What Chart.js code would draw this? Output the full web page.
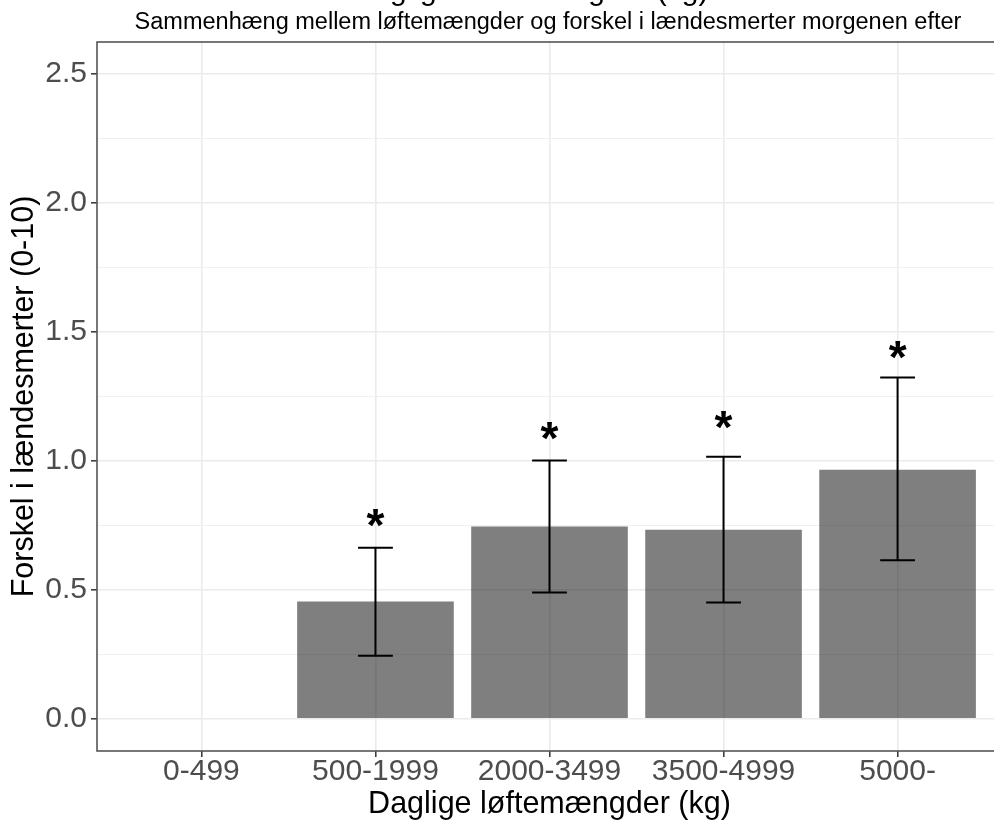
<!DOCTYPE html>
<html><head><meta charset="utf-8">
<script src="https://cdn.jsdelivr.net/npm/chart.js@4.4.1/dist/chart.umd.min.js"></script>
<style>
html,body{margin:0;padding:0;background:#fff;overflow:hidden;width:994px;height:825px}
#wrap{position:absolute;left:0;top:0;width:1010px;height:825px}
</style>
</head><body><div id="wrap"><canvas id="c" width="1010" height="825"></canvas></div>
<script>
const titleText = 'Daglige løftemængder (kg)';
const subtitleText = 'Sammenhæng mellem løftemængder og forskel i lændesmerter morgenen efter';
const xAxisTitle = 'Daglige løftemængder (kg)';
const yAxisTitle = 'Forskel i lændesmerter (0-10)';
const categories = ['0-499', '500-1999', '2000-3499', '3500-4999', '5000-'];
const meanDiff = [null, 0.455, 0.746, 0.733, 0.966];
const ciLower = [null, 0.244, 0.490, 0.451, 0.615];
const ciUpper = [null, 0.663, 1.002, 1.016, 1.324];
const starLabels = ['', '*', '*', '*', '*'];
const starY = [null, 0.78, 1.115, 1.16, 1.43];
const yTickValues = [0, 0.25, 0.5, 0.75, 1, 1.25, 1.5, 1.75, 2, 2.25, 2.5];
const yTickLabels = ['0.0', '', '0.5', '', '1.0', '', '1.5', '', '2.0', '', '2.5'];

const FONT = "'Liberation Sans', Arial, sans-serif";
// category positions 1..n on a linear axis (ggplot-style discrete scale)
const points = categories.map((c, i) => ({ x: i + 1, y: meanDiff[i] }));

const annotate = {
  id: 'annotate',
  afterDatasetsDraw(chart) {
    const ctx = chart.ctx, x = chart.scales.x, y = chart.scales.y;
    const cw = x.getPixelForValue(2) - x.getPixelForValue(1);
    ctx.save();
    ctx.strokeStyle = '#000';
    ctx.lineWidth = 2;
    for (let i = 0; i < categories.length; i++) {
      if (ciLower[i] == null) continue;
      const cx = x.getPixelForValue(i + 1);
      const yl = y.getPixelForValue(ciLower[i]);
      const yu = y.getPixelForValue(ciUpper[i]);
      const hw = cw * 0.1;
      ctx.beginPath();
      ctx.moveTo(cx, yl); ctx.lineTo(cx, yu);
      ctx.moveTo(cx - hw, yl); ctx.lineTo(cx + hw, yl);
      ctx.moveTo(cx - hw, yu); ctx.lineTo(cx + hw, yu);
      ctx.stroke();
    }
    ctx.fillStyle = '#000';
    ctx.font = 'bold 46px ' + FONT;
    ctx.textAlign = 'center';
    ctx.textBaseline = 'alphabetic';
    for (let i = 0; i < categories.length; i++) {
      if (!starLabels[i]) continue;
      const m = ctx.measureText(starLabels[i]);
      const cy = y.getPixelForValue(starY[i]);
      const base = cy + (m.actualBoundingBoxAscent - m.actualBoundingBoxDescent) / 2;
      ctx.fillText(starLabels[i], x.getPixelForValue(i + 1), base);
    }
    ctx.restore();
  },
  afterDraw(chart) {
    const ctx = chart.ctx, a = chart.chartArea;
    ctx.save();
    ctx.strokeStyle = '#555';
    ctx.lineWidth = 1.6;
    ctx.strokeRect(a.left, a.top, a.right - a.left, a.bottom - a.top);
    ctx.fillStyle = '#000';
    ctx.textAlign = 'center';
    ctx.textBaseline = 'alphabetic';
    ctx.font = '30px ' + FONT;
    ctx.fillText(titleText, 530, 0);
    ctx.font = '23.5px ' + FONT;
    ctx.fillText(subtitleText, 548, 29);
    ctx.restore();
  }
};

new Chart(document.getElementById('c'), {
  type: 'bar',
  data: {
    datasets: [{
      data: points,
      backgroundColor: 'rgba(0,0,0,0.5)',
      borderWidth: 0,
      categoryPercentage: 0.9,
      barPercentage: 1.0
    }]
  },
  options: {
    responsive: false,
    animation: false,
    devicePixelRatio: 1,
    layout: { padding: { left: 0, top: 42, right: 8, bottom: 0 } },
    plugins: { legend: { display: false }, tooltip: { enabled: false }, title: { display: false } },
    scales: {
      x: {
        type: 'linear',
        min: 0.4, max: categories.length + 0.6,
        offset: false,
        afterBuildTicks(s) { s.ticks = categories.map((c, i) => ({ value: i + 1 })); },
        grid: { offset: false, color: '#EBEBEB', lineWidth: 1.6, drawTicks: true, tickLength: 6, tickColor: '#333', tickWidth: 1.5 },
        border: { display: false },
        ticks: { color: '#4D4D4D', font: { family: FONT, size: 30, lineHeight: 1 }, padding: 0, autoSkip: false, maxRotation: 0,
          callback: (v, i) => categories[i] },
        title: { display: true, text: xAxisTitle, color: '#000', font: { family: FONT, size: 30.5, lineHeight: 1.2 }, padding: { top: 0, bottom: 2 } },
        afterFit(s) { s.height = 74; }
      },
      y: {
        min: -0.125, max: 2.625,
        afterBuildTicks(s) { s.ticks = yTickValues.map(v => ({ value: v })); },
        grid: {
          color: c => (c.index % 2 === 0 ? '#EBEBEB' : '#F0F0F0'),
          lineWidth: c => (c.index % 2 === 0 ? 1.6 : 1),
          drawTicks: true, tickLength: 6,
          tickColor: c => (c.index % 2 === 0 ? '#333' : 'rgba(0,0,0,0)'),
          tickWidth: 1.5
        },
        border: { display: false },
        ticks: {
          color: '#4D4D4D', font: { family: FONT, size: 30, lineHeight: 1 }, padding: 4, autoSkip: false,
          callback: (v, i) => yTickLabels[i]
        },
        title: { display: true, text: yAxisTitle, color: '#000', font: { family: FONT, size: 30.5, lineHeight: 1.2 }, padding: { top: 6, bottom: 0 } },
        afterFit(s) { s.width = 97; }
      }
    }
  },
  plugins: [annotate]
});
</script>
</body></html>
